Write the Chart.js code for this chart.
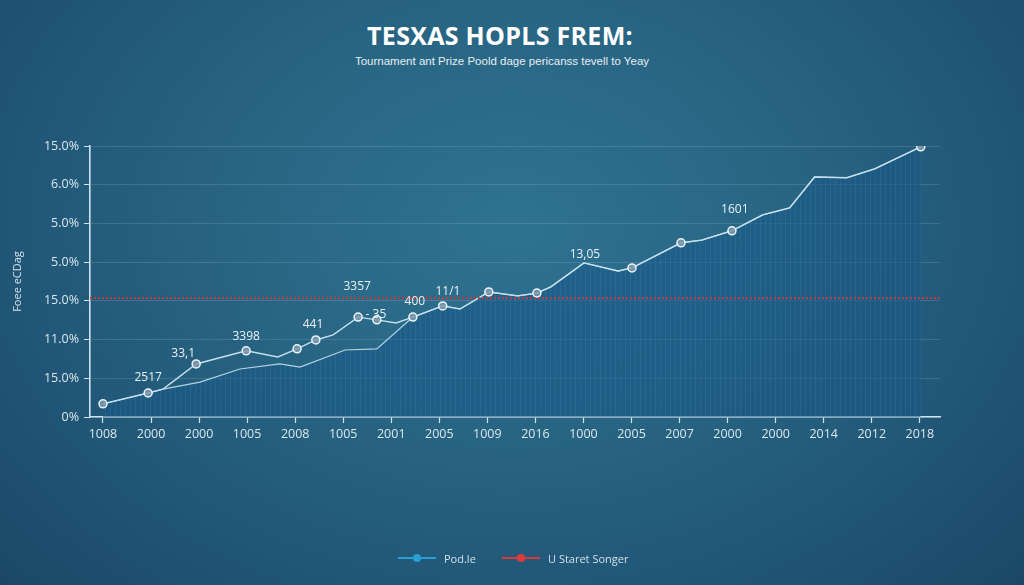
<!DOCTYPE html>
<html>
<head>
<meta charset="utf-8">
<script src="https://cdn.jsdelivr.net/npm/chart.js@4.4.1/dist/chart.umd.min.js"></script>
<style>
html,body{margin:0;padding:0;width:1024px;height:585px;overflow:hidden;}
body{background:radial-gradient(ellipse 72% 95% at 50% 38%, #2f7292 0%, #286583 38%, #215676 68%, #1a4564 100%);font-family:"Open Sans",sans-serif;position:relative;}
#c{position:absolute;left:0;top:0;}
.title{position:absolute;left:0;width:1000px;top:18px;text-align:center;color:#fff;font-weight:700;font-size:25px;letter-spacing:0.3px;}
.sub{position:absolute;left:0;width:1004px;top:55px;text-align:center;color:#e6eef3;font-family:"Liberation Sans",Arial,sans-serif;font-size:11.5px;}
.legend{position:absolute;top:549px;left:0;width:1024px;height:18px;color:#cfe0ea;font-size:11px;}
.li{position:absolute;top:0;display:flex;align-items:center;height:18px;}
.ln{position:relative;width:38px;height:2px;margin-right:8px;}
.dot{position:absolute;left:15px;top:-3px;width:8px;height:8px;border-radius:50%;}
</style>
</head>
<body>
<div class="title">TESXAS HOPLS FREM:</div>
<div class="sub">Tournament ant Prize Poold dage pericanss tevell to Yeay</div>
<canvas id="c" width="1024" height="585"></canvas>
<div class="legend">
  <div class="li" style="left:398px"><div class="ln" style="background:#2a9fd6"><div class="dot" style="background:#2a9fd6"></div></div><span>Pod.le</span></div>
  <div class="li" style="left:502px"><div class="ln" style="background:#d8383a"><div class="dot" style="background:#e03a3a"></div></div><span>U Staret Songer</span></div>
</div>
<script>
// ---- data ----
const xLabels = ["1008","2000","2000","1005","2008","1005","2001","2005","1009","2016","1000","2005","2007","2000","2000","2014","2012","2018"];
const yLabels = ["0%","15.0%","11.0%","15.0%","5.0%","5.0%","6.0%","15.0%"];

const upperX = [0.00,0.94,1.25,1.94,2.98,3.64,4.04,4.43,4.79,5.31,5.70,6.10,6.45,7.07,7.43,8.03,8.63,9.03,9.32,10.01,10.72,11.01,12.03,12.46,13.09,13.73,14.29,14.81,15.48,16.06,17.02];
const upperY = [0.34,0.62,0.72,1.37,1.71,1.55,1.76,1.99,2.12,2.58,2.51,2.43,2.58,2.87,2.79,3.23,3.13,3.20,3.36,3.98,3.77,3.85,4.50,4.57,4.81,5.22,5.40,6.20,6.18,6.41,6.98];
const upperMarker = [1,1,0,1,1,0,1,1,0,1,1,0,1,1,0,1,0,1,0,0,0,1,1,0,1,0,0,0,0,0,1];

const lowerX = [0.00,0.94,1.25,2.02,2.85,3.68,4.10,5.04,5.70,6.45,7.07,7.43,8.03,8.63,9.03,9.32,10.01,10.72,11.01,12.03,12.46,13.09,13.73,14.29,14.81,15.48,16.06,17.02];
const lowerY = [0.34,0.62,0.72,0.90,1.24,1.37,1.29,1.73,1.76,2.58,2.87,2.79,3.23,3.13,3.20,3.36,3.98,3.77,3.85,4.50,4.57,4.81,5.22,5.40,6.20,6.18,6.41,6.98];

const refValue = 3.07;

const labelText = ["2517","33,1","3398","441","3357","- 35","400","11/1","13,05","1601"];
const labelX = [0.94,1.67,2.98,4.37,5.29,5.68,6.49,7.18,10.03,13.15];
const labelY = [1.01,1.63,2.07,2.38,3.38,2.64,2.97,3.23,4.19,5.37];

// ---- chart ----
const X_MIN = -0.27, X_MAX = 17.42;

function makePattern(){
  const p = document.createElement('canvas');
  p.width = 5; p.height = 10;
  const g = p.getContext('2d');
  g.fillStyle = 'rgba(24,88,135,0.55)';
  g.fillRect(0,0,5,10);
  g.fillStyle = 'rgba(110,165,205,0.12)';
  g.fillRect(0,0,1,10);
  return g.createPattern(p,'repeat');
}

const ctx = document.getElementById('c').getContext('2d');
const toPts = (xs, ys) => xs.map((x,i)=>({x:x,y:ys[i]}));

const labelPlugin = {
  id:'pointLabels',
  afterDatasetsDraw(chart){
    const c = chart.ctx, xs = chart.scales.x, ys = chart.scales.y;
    c.save();
    c.font = '12px "Open Sans", sans-serif';
    c.fillStyle = '#e9f1f6';
    c.textAlign = 'center';
    c.textBaseline = 'middle';
    labelText.forEach((t,i)=>{
      c.fillText(t, xs.getPixelForValue(labelX[i]), ys.getPixelForValue(labelY[i]));
    });
    c.restore();
  }
};

new Chart(ctx, {
  type:'line',
  data:{
    datasets:[
      {
        label:'U Staret Songer',
        data:[{x:X_MIN,y:refValue},{x:X_MAX,y:refValue}],
        borderColor:'#c93a3e',
        borderWidth:2,
        borderDash:[2,2],
        pointRadius:0,
        fill:false,
        order:0
      },
      {
        label:'Pod.le',
        data:toPts(upperX, upperY),
        borderColor:'#c4e0ee',
        borderWidth:1.4,
        tension:0,
        fill:false,
        pointRadius:(c)=>upperMarker[c.dataIndex]?4:0,
        pointBackgroundColor:'rgba(125,155,175,0.85)',
        pointBorderColor:'#eef4f7',
        pointBorderWidth:1.5,
        order:1
      },
      {
        label:'lower',
        data:toPts(lowerX, lowerY),
        borderColor:'#b4d3e4',
        borderWidth:1.2,
        tension:0,
        pointRadius:0,
        fill:'origin',
        backgroundColor:makePattern(),
        order:2
      }
    ]
  },
  options:{
    responsive:false,
    animation:false,
    layout:{padding:{left:0,top:146,right:84,bottom:138}},
    plugins:{legend:{display:false},tooltip:{enabled:false}},
    scales:{
      x:{
        type:'linear',
        min:X_MIN, max:X_MAX,
        afterBuildTicks:(s)=>{ s.ticks = xLabels.map((_,i)=>({value:i})); },
        afterFit:(s)=>{ s.height = 30; },
        ticks:{
          callback:(v)=>xLabels[v],
          color:'#d9e7ef',
          font:{family:'"Open Sans", sans-serif',size:12.5},
          autoSkip:false, maxRotation:0, padding:4
        },
        grid:{drawOnChartArea:false, tickLength:6, tickColor:'#cfe3ee', tickWidth:1.2},
        border:{color:'#cfe3ee', width:1.6}
      },
      y:{
        min:0, max:7,
        afterBuildTicks:(s)=>{ s.ticks = yLabels.map((_,i)=>({value:i})); },
        afterFit:(s)=>{ s.width = 90; },
        ticks:{
          callback:(v)=>yLabels[v],
          color:'#d9e7ef',
          font:{family:'"Open Sans", sans-serif',size:12.5},
          padding:5
        },
        title:{
          display:true, text:'Foee eCDag',
          color:'#d0e2ec',
          font:{family:'"Open Sans", sans-serif',size:11},
          padding:{top:11,bottom:0}
        },
        grid:{color:'rgba(200,225,240,0.16)', lineWidth:1, tickLength:6, tickColor:'#cfe3ee'},
        border:{color:'#cfe3ee', width:1.6}
      }
    }
  },
  plugins:[labelPlugin]
});
</script>
</body>
</html>
